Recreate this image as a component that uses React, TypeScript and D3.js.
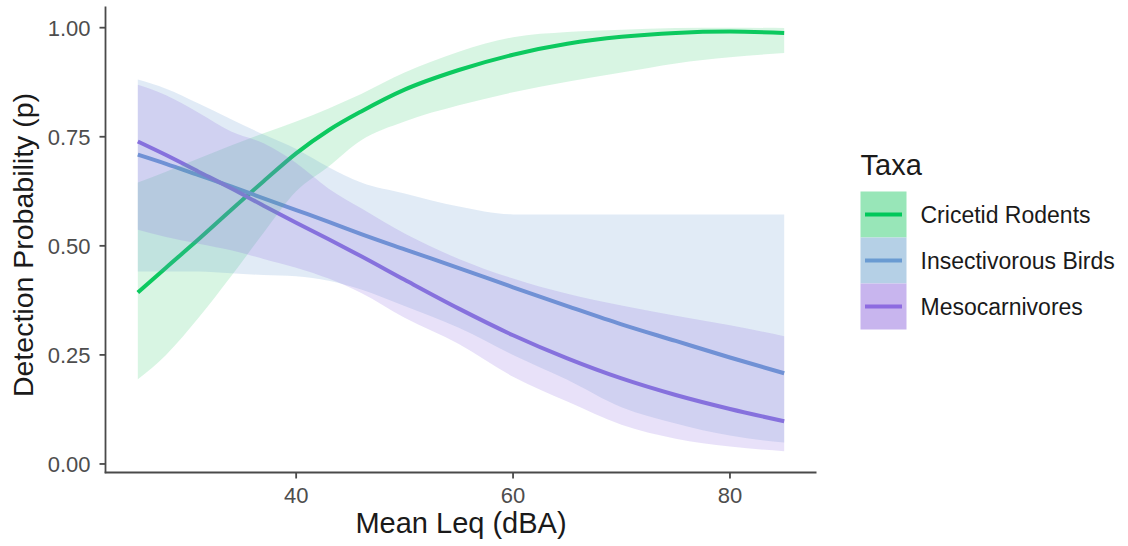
import React from "react";
import * as d3 from "d3";

// Mean Leq (dBA) at which the fitted curves are evaluated
const LEQ = [25.4, 28, 31, 34, 37, 40, 43, 46, 50, 55, 60, 65, 70, 75, 80, 85];

// Cricetid rodents: fitted detection probability and 95% band
const RODENT_FIT = [0.393, 0.45, 0.515, 0.582, 0.648, 0.712, 0.765, 0.808, 0.858, 0.903, 0.938, 0.963, 0.979, 0.988, 0.991, 0.988];
const RODENT_LO = [0.194, 0.25, 0.335, 0.43, 0.53, 0.625, 0.682, 0.742, 0.785, 0.822, 0.852, 0.876, 0.897, 0.918, 0.932, 0.942];
const RODENT_HI = [0.645, 0.67, 0.7, 0.73, 0.758, 0.785, 0.815, 0.848, 0.897, 0.945, 0.978, 0.99, 0.995, 0.999, 1.0, 0.999];

// Insectivorous birds
const BIRD_FIT = [0.709, 0.688, 0.662, 0.636, 0.609, 0.582, 0.555, 0.527, 0.492, 0.449, 0.405, 0.362, 0.32, 0.282, 0.244, 0.208];
const BIRD_LO = [0.441, 0.441, 0.441, 0.437, 0.433, 0.43, 0.42, 0.4, 0.362, 0.312, 0.25, 0.193, 0.13, 0.093, 0.065, 0.049];
const BIRD_HI = [0.881, 0.86, 0.826, 0.79, 0.755, 0.722, 0.68, 0.645, 0.62, 0.59, 0.572, 0.572, 0.572, 0.572, 0.572, 0.572];

// Mesocarnivores
const MESO_FIT = [0.739, 0.708, 0.67, 0.632, 0.592, 0.553, 0.515, 0.476, 0.422, 0.356, 0.295, 0.242, 0.196, 0.158, 0.126, 0.098];
const MESO_LO = [0.537, 0.52, 0.505, 0.49, 0.47, 0.45, 0.425, 0.392, 0.335, 0.275, 0.2, 0.143, 0.09, 0.058, 0.04, 0.029];
const MESO_HI = [0.869, 0.845, 0.805, 0.762, 0.735, 0.69, 0.631, 0.586, 0.528, 0.47, 0.425, 0.39, 0.363, 0.34, 0.318, 0.293];

const TAXA = ["Cricetid Rodents", "Insectivorous Birds", "Mesocarnivores"];
const LINE_COLORS = ["#00c85a", "#6a9bd2", "#8d6be0"];
const FILL_COLORS = ["#3ccd73", "#6a9bd2", "#8d6be0"];
const KEY_COLORS = ["#98e6b8", "#b5d0e6", "#c8b5ee"];

const X_TICKS = [40, 60, 80];
const Y_TICKS = [0, 0.25, 0.5, 0.75, 1.0];

const W = 1128;
const H = 546;
const PANEL = { left: 105.5, right: 816.5, top: 6.5, bottom: 472.5 };
const FONT = "'Liberation Sans', Arial, Helvetica, sans-serif";

type Pt = { x: number; fit: number; lo: number; hi: number };

function series(fit: number[], lo: number[], hi: number[]): Pt[] {
  return LEQ.map((x, i) => ({ x, fit: fit[i], lo: lo[i], hi: hi[i] }));
}

const SERIES: Pt[][] = [
  series(RODENT_FIT, RODENT_LO, RODENT_HI),
  series(BIRD_FIT, BIRD_LO, BIRD_HI),
  series(MESO_FIT, MESO_LO, MESO_HI),
];

function expand(lo: number, hi: number): [number, number] {
  const pad = (hi - lo) * 0.05;
  return [lo - pad, hi + pad];
}

export default function App() {
  const xExt = d3.extent(LEQ) as [number, number];
  const all = SERIES.flat();
  const yMin = d3.min(all, (d) => d.lo) as number;
  const yMax = d3.max(all, (d) => d.hi) as number;

  const x = d3.scaleLinear().domain(expand(xExt[0], xExt[1])).range([PANEL.left, PANEL.right]);
  const y = d3.scaleLinear().domain(expand(yMin, yMax)).range([PANEL.bottom, PANEL.top]);

  const line = d3
    .line<Pt>()
    .x((d) => x(d.x))
    .y((d) => y(d.fit))
    .curve(d3.curveMonotoneX);
  const area = d3
    .area<Pt>()
    .x((d) => x(d.x))
    .y0((d) => y(d.lo))
    .y1((d) => y(d.hi))
    .curve(d3.curveMonotoneX);

  const axisColor = "#4a4a4a";
  const tickText = "#4d4d4d";

  const legendX = 860.5;
  const keyTop = 191.5;
  const keySize = 46;

  return (
    <svg
      width={W}
      height={H}
      style={{ position: "absolute", left: 0, top: 0, background: "#fff" }}
      fontFamily={FONT}
    >
      <rect x={0} y={0} width={W} height={H} fill="#ffffff" />

      {/* fitted curves */}
      {SERIES.map((s, i) => (
        <path
          key={"l" + i}
          d={line(s) || ""}
          fill="none"
          stroke={LINE_COLORS[i]}
          strokeWidth={4}
          strokeLinecap="butt"
        />
      ))}
      {/* confidence bands drawn over the curves */}
      {SERIES.map((s, i) => (
        <path key={"a" + i} d={area(s) || ""} fill={FILL_COLORS[i]} fillOpacity={0.2} stroke="none" />
      ))}

      {/* axes */}
      <line x1={PANEL.left} x2={PANEL.left} y1={PANEL.top} y2={PANEL.bottom + 0.8} stroke={axisColor} strokeWidth={1.8} />
      <line x1={PANEL.left - 0.8} x2={PANEL.right} y1={PANEL.bottom} y2={PANEL.bottom} stroke={axisColor} strokeWidth={1.8} />

      {Y_TICKS.map((t) => (
        <g key={"yt" + t}>
          <line x1={PANEL.left - 6} x2={PANEL.left} y1={y(t)} y2={y(t)} stroke={axisColor} strokeWidth={1.8} />
          <text
            x={PANEL.left - 15}
            y={y(t)}
            dy="0.36em"
            textAnchor="end"
            fontSize={22}
            fill={tickText}
          >
            {d3.format(".2f")(t)}
          </text>
        </g>
      ))}
      {X_TICKS.map((t) => (
        <g key={"xt" + t}>
          <line x1={x(t)} x2={x(t)} y1={PANEL.bottom} y2={PANEL.bottom + 6} stroke={axisColor} strokeWidth={1.8} />
          <text x={x(t)} y={502.5} textAnchor="middle" fontSize={22} fill={tickText}>
            {t}
          </text>
        </g>
      ))}

      {/* axis titles */}
      <text
        x={(PANEL.left + PANEL.right) / 2}
        y={533}
        textAnchor="middle"
        fontSize={29}
        fill="#1a1a1a"
      >
        Mean Leq (dBA)
      </text>
      <text
        transform={`translate(32.5, 245) rotate(-90)`}
        textAnchor="middle"
        fontSize={28.5}
        fill="#1a1a1a"
      >
        Detection Probability (p)
      </text>

      {/* legend */}
      <text x={legendX} y={174.5} fontSize={29} fill="#1a1a1a">
        Taxa
      </text>
      {TAXA.map((name, i) => {
        const top = keyTop + i * keySize;
        const cy = top + keySize / 2;
        return (
          <g key={"lg" + i}>
            <rect x={legendX} y={top} width={keySize} height={keySize} fill={KEY_COLORS[i]} />
            <line
              x1={legendX + 4.5}
              x2={legendX + keySize - 4.5}
              y1={cy}
              y2={cy}
              stroke={LINE_COLORS[i]}
              strokeWidth={3.8}
            />
            <text x={920.5} y={cy} dy="0.36em" fontSize={23} fill="#1a1a1a">
              {name}
            </text>
          </g>
        );
      })}
    </svg>
  );
}
